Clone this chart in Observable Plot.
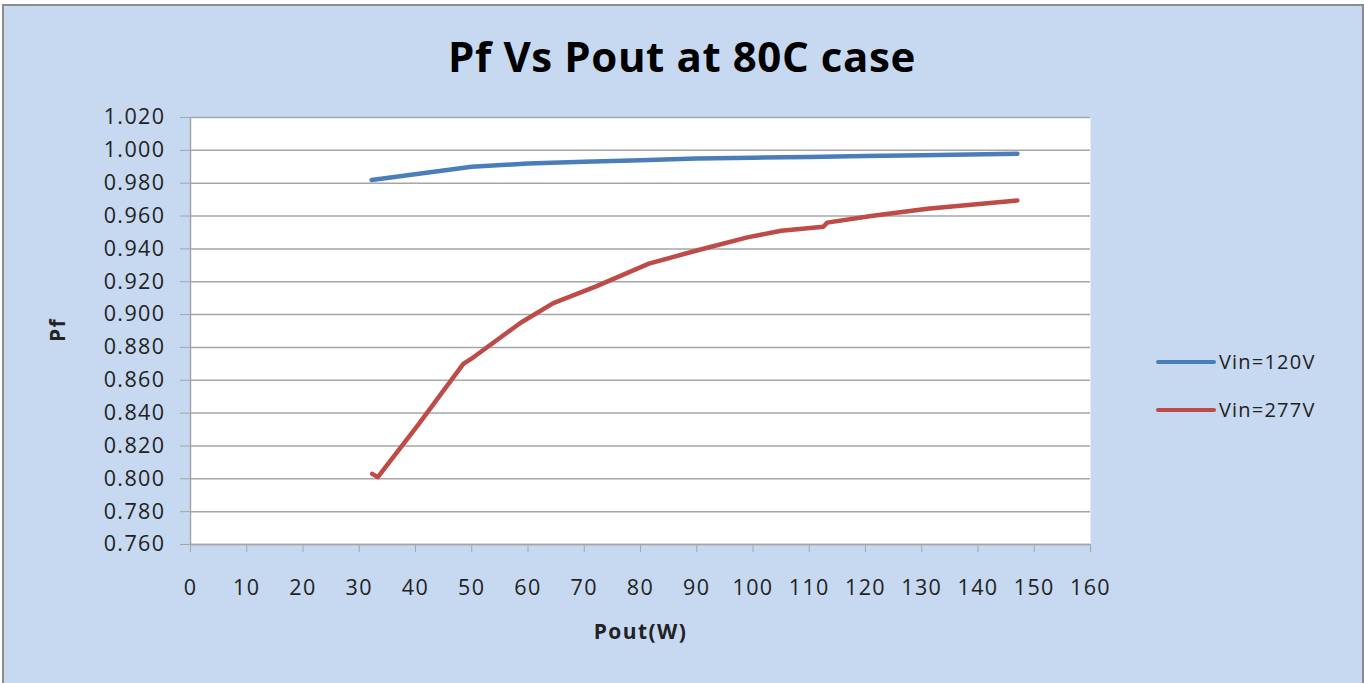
<!DOCTYPE html>
<html>
<head>
<meta charset="utf-8">
<script src="https://cdn.jsdelivr.net/npm/d3@7"></script>
<script src="https://cdn.jsdelivr.net/npm/@observablehq/plot@0.6"></script>
<style>
  html, body { margin: 0; padding: 0; background: #ffffff; overflow: hidden; }
  #page { position: relative; width: 1364px; height: 683px; overflow: hidden; font-family: "Open Sans", Lato, sans-serif; }
  #box { position: absolute; left: 2px; top: 4px; width: 1362px; height: 700px; background: #c6d9f0; box-sizing: border-box; border: 2px solid #8c8c8c; }
  #title { position: absolute; left: 0; width: 1364px; top: 35px; line-height: 1; text-align: center; font-size: 42px; font-weight: bold; color: #000; letter-spacing: 0.6px; }
  #chart { position: absolute; left: 0; top: 0; }
  .leg { position: absolute; left: 1156px; font-size: 20px; color: #222; display: flex; align-items: center; letter-spacing: 1.2px; }
  .leg span.sw { display: inline-block; width: 60px; height: 4px; border-radius: 2px; margin-right: 3px; }
</style>
</head>
<body>
<div id="page">
  <div id="box"></div>
  <div id="title">Pf Vs Pout at 80C case</div>
  <div id="chart"></div>
  <div class="leg" style="top:348px"><span class="sw" style="background:#4a7ebb"></span>Vin=120V</div>
  <div class="leg" style="top:396px"><span class="sw" style="background:#be4b48"></span>Vin=277V</div>
</div>
<script>
const seriesNames = ["Vin=120V", "Vin=277V"];
const seriesColors = ["#4a7ebb", "#be4b48"];

const pout120 = [32.2, 50, 60, 70, 80, 90, 100, 110, 120, 130, 147];
const pf120   = [0.982, 0.990, 0.992, 0.993, 0.994, 0.995, 0.9955, 0.996, 0.9965, 0.997, 0.998];

const pout277 = [32.3, 33.3, 40.5, 48.5, 50.3, 58.7, 64.5, 72, 81.5, 90, 99, 105, 112.5, 113.2, 121, 131, 147];
const pf277   = [0.803, 0.801, 0.833, 0.870, 0.874, 0.895, 0.907, 0.917, 0.931, 0.939, 0.947, 0.951, 0.9535, 0.956, 0.960, 0.9645, 0.9695];

const xTicks = d3.range(0, 161, 10);
const yTicks = d3.range(0, 14).map(i => +(0.76 + i * 0.02).toFixed(3));

const data = [
  ...pout120.map((x, i) => ({x, y: pf120[i], s: seriesNames[0]})),
  ...pout277.map((x, i) => ({x, y: pf277[i], s: seriesNames[1]}))
];

const chart = Plot.plot({
  width: 1364,
  height: 683,
  marginLeft: 190,
  marginRight: 274,
  marginTop: 117,
  marginBottom: 139,
  style: { background: "transparent", fontFamily: "'Open Sans', Lato, sans-serif", fontSize: "21.5px", color: "#222", letterSpacing: "1.4px" },
  x: { domain: [0, 160], ticks: xTicks, label: null },
  y: { domain: [0.76, 1.02], ticks: yTicks, label: null },
  color: { domain: seriesNames, range: seriesColors },
  marks: [
    Plot.frame({ fill: "white", stroke: null }),
    Plot.gridY(yTicks, { stroke: "#a6a6a6", strokeOpacity: 1, strokeWidth: 1.5 }),
    Plot.ruleX([0], { stroke: "#a6a6a6", strokeWidth: 1.5 }),
    Plot.ruleY([0.76], { stroke: "#a6a6a6", strokeWidth: 1.5 }),
    Plot.axisY(yTicks, { tickSize: 10, tickPadding: 15, stroke: "#a6a6a6", tickFormat: d3.format(".3f"), fill: "#222", label: null }),
    Plot.axisX(xTicks, { tickSize: 8, tickPadding: 27, stroke: "#a6a6a6", tickFormat: d3.format("d"), fill: "#222", label: null }),
    Plot.line(data, { x: "x", y: "y", z: "s", stroke: "s", strokeWidth: 4.5, strokeLinecap: "round", strokeLinejoin: "round" }),
    Plot.text(["Pout(W)"], { frameAnchor: "bottom", dy: 94, fontSize: 21, fontWeight: "bold", fill: "#222" }),
    Plot.text(["Pf"], { frameAnchor: "left", dx: -132, dy: 11, rotate: -90, fontSize: 21, fontWeight: "bold", fill: "#222" })
  ]
});
document.getElementById("chart").appendChild(chart);
</script>
</body>
</html>
